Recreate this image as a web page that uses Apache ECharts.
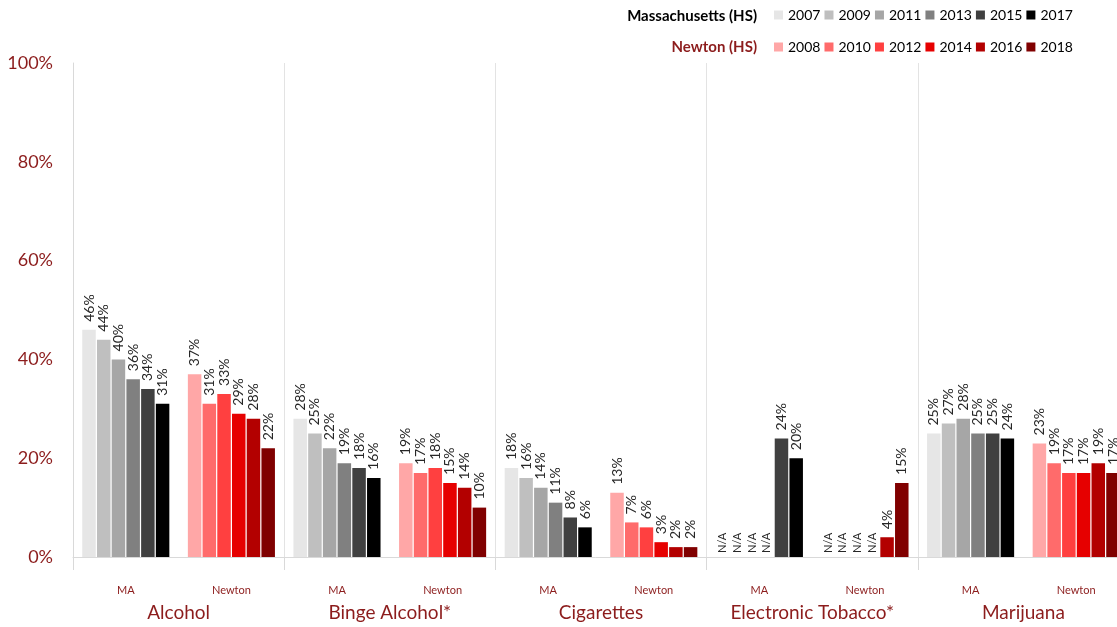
<!DOCTYPE html>
<html>
<head>
<meta charset="utf-8">
<script src="https://cdn.jsdelivr.net/npm/echarts@6/dist/echarts.min.js"></script>
<style>
  html, body { margin: 0; padding: 0; background: #fff; overflow: hidden; }
  #chart { width: 1117px; height: 627px; }
</style>
</head>
<body>
<div id="chart"></div>
<script>
// Substances and the two survey groups shown under each one
const categories = ['Alcohol', 'Binge Alcohol*', 'Cigarettes', 'Electronic Tobacco*', 'Marijuana'];
const groups = ['MA', 'Newton'];

// Massachusetts high-school results (%), one array per survey year; null = not asked (N/A)
const maYears = ['2007', '2009', '2011', '2013', '2015', '2017'];
const ma2007 = [46, 28, 18, null, 25];
const ma2009 = [44, 25, 16, null, 27];
const ma2011 = [40, 22, 14, null, 28];
const ma2013 = [36, 19, 11, null, 25];
const ma2015 = [34, 18, 8, 24, 25];
const ma2017 = [31, 16, 6, 20, 24];

// Newton high-school results (%)
const nwYears = ['2008', '2010', '2012', '2014', '2016', '2018'];
const nw2008 = [37, 19, 13, null, 23];
const nw2010 = [31, 17, 7, null, 19];
const nw2012 = [33, 18, 6, null, 17];
const nw2014 = [29, 15, 3, null, 17];
const nw2016 = [28, 14, 2, 4, 19];
const nw2018 = [22, 10, 2, 15, 17];

const maColors = ['#e6e6e6', '#bfbfbf', '#a6a6a6', '#808080', '#404040', '#000000'];
const nwColors = ['#ffa7a7', '#ff6b6b', '#ff4040', '#e60000', '#b30000', '#800000'];

const maValues = [ma2007, ma2009, ma2011, ma2013, ma2015, ma2017];
const nwValues = [nw2008, nw2010, nw2012, nw2014, nw2016, nw2018];

const DARK_RED = '#8c1c1c';
const FONT = 'Lato';

// One slot per (substance, group) pair on the inner axis
const slotKeys = [];
categories.forEach(c => groups.forEach(g => slotKeys.push(c + '|' + g)));

function toItem(v) {
  if (v === null) {
    return { value: 0, label: { formatter: 'N/A', fontSize: 11, distance: 4 } };
  }
  return v;
}

// groupIdx 0 = MA slots, 1 = Newton slots; the other group's slots stay empty
function buildData(values, groupIdx) {
  const out = [];
  values.forEach(v => {
    if (groupIdx === 0) { out.push(toItem(v)); out.push(null); }
    else { out.push(null); out.push(toItem(v)); }
  });
  return out;
}

const labelStyle = {
  show: true,
  position: 'top',
  rotate: 90,
  align: 'left',
  verticalAlign: 'middle',
  distance: 8,
  formatter: '{c}%',
  fontSize: 14,
  fontFamily: FONT,
  color: '#262626'
};

const series = [];
// MA year j and Newton year j share a stack so they occupy the same bar slot
maYears.forEach((y, j) => {
  series.push({
    name: y, type: 'bar', stack: 's' + j, xAxisIndex: 0,
    barWidth: 13.5, barGap: '9%',
    itemStyle: { color: maColors[j] },
    label: labelStyle,
    data: buildData(maValues[j], 0)
  });
});
nwYears.forEach((y, j) => {
  series.push({
    name: y, type: 'bar', stack: 's' + j, xAxisIndex: 0,
    barWidth: 13.5, barGap: '9%',
    itemStyle: { color: nwColors[j] },
    label: labelStyle,
    data: buildData(nwValues[j], 1)
  });
});

const chart = echarts.init(document.getElementById('chart'), null, { renderer: 'canvas' });
chart.setOption({
  animation: false,
  backgroundColor: '#fff',
  textStyle: { fontFamily: FONT },
  title: [
    { text: 'Massachusetts (HS)', right: 360, top: 9, padding: 0,
      textStyle: { fontSize: 15, fontWeight: 'bold', color: '#000', fontFamily: FONT } },
    { text: 'Newton (HS)', right: 360, top: 40, padding: 0,
      textStyle: { fontSize: 15, fontWeight: 'bold', color: DARK_RED, fontFamily: FONT } }
  ],
  legend: [
    { data: maYears, left: 774, top: 8, padding: 0, itemWidth: 9, itemHeight: 9, itemGap: 4,
      icon: 'rect', selectedMode: false,
      textStyle: { fontSize: 14, color: '#000', fontFamily: FONT } },
    { data: nwYears, left: 774, top: 40, padding: 0, itemWidth: 9, itemHeight: 9, itemGap: 4,
      icon: 'rect', selectedMode: false,
      textStyle: { fontSize: 14, color: '#000', fontFamily: FONT } }
  ],
  // The plot runs slightly past the right edge of the page
  grid: { left: 73, top: 63, width: 1056, height: 494, containLabel: false, outerBoundsMode: 'none' },
  xAxis: [
    {
      type: 'category',
      data: slotKeys,
      position: 'bottom',
      axisLine: { show: true, lineStyle: { color: '#d9d9d9' } },
      axisTick: { show: false },
      splitLine: { show: false },
      axisLabel: {
        interval: 0, margin: 28, fontSize: 11, color: DARK_RED, fontFamily: FONT,
        formatter: v => v.split('|')[1]
      }
    },
    {
      type: 'category',
      data: categories,
      position: 'bottom',
      axisLine: { show: false },
      axisTick: { show: true, length: 13, lineStyle: { color: '#d9d9d9' } },
      splitLine: { show: true, lineStyle: { color: '#e3e3e3' } },
      axisLabel: { interval: 0, margin: 46, fontSize: 19, color: DARK_RED, fontFamily: FONT }
    }
  ],
  yAxis: {
    type: 'value',
    min: 0, max: 100, interval: 20,
    axisLine: { show: true, lineStyle: { color: '#d9d9d9' } },
    axisTick: { show: false },
    splitLine: { show: false },
    axisLabel: { formatter: '{value}%', fontSize: 18, color: DARK_RED, margin: 20, fontFamily: FONT }
  },
  series: series
});
</script>
</body>
</html>
